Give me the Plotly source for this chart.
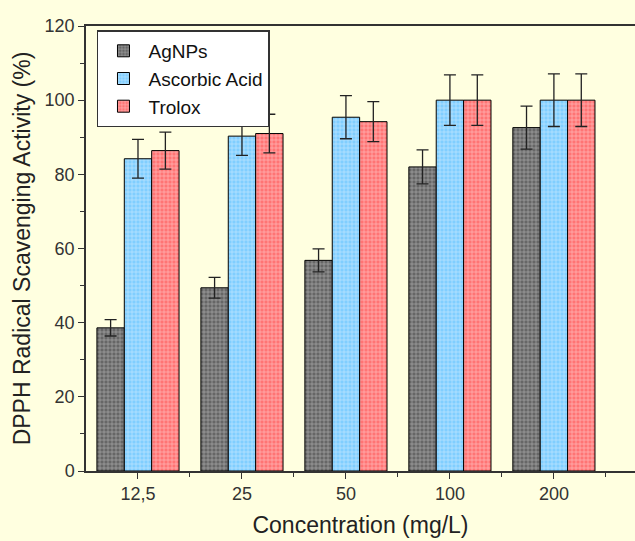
import plotly.graph_objects as go

categories = ["12,5", "25", "50", "100", "200"]
agnps = [38.6, 49.4, 56.8, 82.0, 92.6]
agnps_err = [2.2, 2.8, 3.1, 4.6, 5.8]
ascorbic = [84.2, 90.3, 95.4, 100.0, 100.0]
ascorbic_err = [5.2, 5.2, 5.8, 6.8, 7.1]
trolox = [86.4, 91.0, 94.2, 100.0, 100.0]
trolox_err = [5.0, 5.2, 5.4, 6.8, 7.1]
y_ticks = [0, 20, 40, 60, 80, 100, 120]

xpos = list(range(len(categories)))
bg = "#FFFFE0"
FONT = "Arial, Liberation Sans, sans-serif"

def bar(name, vals, errs, color, fg):
    return go.Bar(
        name=name, x=xpos, y=vals,
        marker=dict(color=color, line=dict(color="black", width=1),
                    pattern=dict(shape="+", fgcolor=fg, size=4, solidity=0.3, fillmode="overlay")),
        error_y=dict(type="data", array=errs, visible=True, color="#222222", thickness=1.3, width=6),
    )

fig = go.Figure()
fig.add_trace(bar("AgNPs", agnps, agnps_err, "#666666", "#eeeeee"))
fig.add_trace(bar("Ascorbic Acid", ascorbic, ascorbic_err, "#80ceff", "#ffffff"))
fig.add_trace(bar("Trolox", trolox, trolox_err, "#ff7474", "#ffffff"))

axis_font = dict(family=FONT, size=18, color="#333333")
fig.update_layout(
    width=635, height=541,
    paper_bgcolor=bg, plot_bgcolor=bg,
    margin=dict(l=86, r=0, t=26, b=70),
    barmode="group", bargap=0.21, bargroupgap=0,
    font=dict(family=FONT, color="#222222"),
    showlegend=True,
    legend=dict(x=0.02, y=0.99, xanchor="left", yanchor="top",
                bgcolor="white", bordercolor="#333333", borderwidth=1.5,
                font=dict(size=19, color="#111111"), itemwidth=40,
                tracegroupgap=0, traceorder="normal"),
    xaxis=dict(
        range=[-0.5, 4.78], tickvals=xpos, ticktext=categories,
        ticks="outside", ticklen=6, tickwidth=1, tickcolor="#333333",
        showline=True, linecolor="#333333", linewidth=1.5, mirror=True,
        showgrid=False, zeroline=False, tickfont=axis_font,
        minor=dict(tickvals=[0.5, 1.5, 2.5, 3.5, 4.5], ticks="outside", ticklen=4, tickcolor="#333333"),
        title=dict(text="Concentration (mg/L)", font=dict(size=23, color="#222222"), standoff=14),
    ),
    yaxis=dict(
        range=[0, 120], tickvals=y_ticks,
        ticks="outside", ticklen=6, tickwidth=1, tickcolor="#333333",
        showline=True, linecolor="#333333", linewidth=1.5,
        showgrid=False, zeroline=False, tickfont=axis_font,
        minor=dict(dtick=10, ticks="outside", ticklen=4, tickcolor="#333333"),
        title=dict(text="DPPH Radical Scavenging Activity (%)", font=dict(size=23, color="#222222"), standoff=8),
    ),
)

fig.write_html("out.html", config={"displayModeBar": False},
               post_script="document.body.style.margin='0';document.body.style.overflow='hidden';")
